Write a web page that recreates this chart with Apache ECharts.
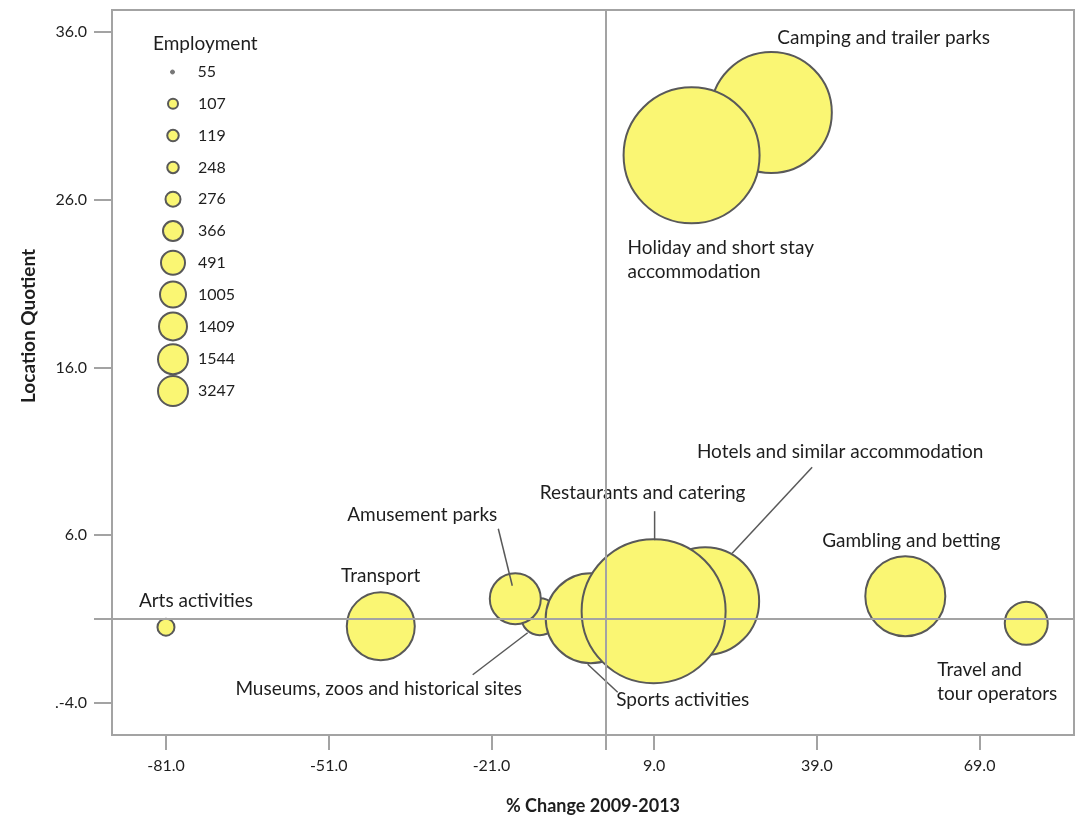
<!DOCTYPE html>
<html>
<head>
<meta charset="utf-8">
<script src="https://cdn.jsdelivr.net/npm/echarts@6/dist/echarts.min.js"></script>
<style>
html,body{margin:0;padding:0;background:#fff;}
#chart{width:1081px;height:819px;}
</style>
</head>
<body>
<div id="chart"></div>
<script>
// ---------- data (draw order: later entries are painted on top) ----------
const sectors = [
  'Arts activities',
  'Transport',
  'Museums, zoos and historical sites',
  'Amusement parks',
  'Sports activities',
  'Hotels and similar accommodation',
  'Restaurants and catering',
  'Gambling and betting',
  'Travel and\ntour operators',
  'Camping and trailer parks',
  'Holiday and short stay\naccommodation'
];
const pctChange        = [-81.0, -41.4, -12.1, -16.6, -2.7, 18.4, 8.9, 55.3, 77.6, 30.6, 15.9];
const locationQuotient = [0.52, 0.58, 1.14, 2.21, 1.05, 2.07, 1.47, 2.36, 0.75, 31.2, 28.65];
const employment       = [55, 276, 107, 248, 491, 1005, 3247, 366, 119, 1409, 1544];

const legendValues = [55, 107, 119, 248, 276, 366, 491, 1005, 1409, 1544, 3247];

const xTickValues = [-81, -51, -21, 9, 39, 69];
const xTickLabels = ['-81.0', '-51.0', '-21.0', '9.0', '39.0', '69.0'];
const yTickValues = [36, 26, 16, 6, -4];
const yTickLabels = ['36.0', '26.0', '16.0', '6.0', '.-4.0'];

const refX = 0;   // % change reference
const refY = 1;   // location quotient reference

// ---------- visual encodings ----------
const FILL = '#FAF673';
const EDGE = '#595959';
const AXIS = '#A3A3A3';
const TEXT = '#1e1e1e';
const FONT = 'Lato, "Open Sans", sans-serif';

// bubble diameter scale (piecewise over the employment legend breaks)
const sizeRange = [17, 37, 43, 51, 68, 80, 90, 108, 121, 136, 144];
function sizeScale(v) {
  const d = legendValues, r = sizeRange;
  if (v <= d[0]) return r[0];
  for (let i = 1; i < d.length; i++) {
    if (v <= d[i]) return r[i - 1] + (r[i] - r[i - 1]) * (v - d[i - 1]) / (d[i] - d[i - 1]);
  }
  return r[r.length - 1];
}
// legend icon diameters
const legendIconSize = [4, 10, 11.5, 11.5, 15, 20, 24, 26, 28, 30, 30];

// label placement (offset of label anchor from bubble centre, px)
const labelPlacement = {
  'Arts activities': {dx: 30, dy: -26, align: 'center'},
  'Transport': {dx: 0, dy: -50, align: 'center'},
  'Museums, zoos and historical sites': {dx: -161, dy: 72, align: 'center'},
  'Amusement parks': {dx: -93, dy: -84, align: 'center'},
  'Sports activities': {dx: 92, dy: 82, align: 'center'},
  'Hotels and similar accommodation': {dx: 135, dy: -149, align: 'center'},
  'Restaurants and catering': {dx: -11, dy: -118, align: 'center'},
  'Gambling and betting': {dx: 6, dy: -55, align: 'center'},
  'Travel and\ntour operators': {dx: -89, dy: 59, align: 'left'},
  'Camping and trailer parks': {dx: 6, dy: -75, align: 'left'},
  'Holiday and short stay\naccommodation': {dx: -64, dy: 105, align: 'left'}
};
// leader lines: [start offset, end offset] from bubble centre, px
const leaderPlacement = {
  'Amusement parks': [[-17, -70], [-3, -13]],
  'Restaurants and catering': [[1, -100], [1, -71]],
  'Hotels and similar accommodation': [[107, -134], [27, -48]],
  'Museums, zoos and historical sites': [[-67, 58], [-12, 16]],
  'Sports activities': [[-3, 46], [27, 74]]
};

const series = sectors.map((name, i) => {
  const lp = labelPlacement[name];
  return {
    type: 'scatter',
    name: String(employment[i]),
    data: [{name: name, value: [pctChange[i], locationQuotient[i], employment[i]]}],
    symbol: 'circle',
    symbolSize: v => sizeScale(v[2]),
    itemStyle: {color: FILL, borderColor: EDGE, borderWidth: 2, opacity: 1},
    label: {
      show: true, position: 'inside', formatter: '{b}',
      color: TEXT, fontSize: 19, fontFamily: FONT,
      align: lp.align, verticalAlign: 'middle', lineHeight: 24
    },
    labelLayout: {dx: lp.dx, dy: lp.dy},
    emphasis: {disabled: true},
    clip: false,
    z: 2
  };
});

// leader lines drawn from each bubble centre through the axis scales
const leaderIdx = sectors.map((n, i) => i).filter(i => leaderPlacement[sectors[i]]);
series.push({
  type: 'custom',
  name: 'leaders',
  silent: true,
  clip: false,
  z: 3,
  data: leaderIdx.map(i => ({name: sectors[i], value: [pctChange[i], locationQuotient[i]]})),
  renderItem: function (params, api) {
    const c = api.coord([api.value(0), api.value(1)]);
    const nm = sectors[leaderIdx[params.dataIndex]];
    const lp = leaderPlacement[nm];
    return {
      type: 'line',
      shape: {x1: c[0] + lp[0][0], y1: c[1] + lp[0][1], x2: c[0] + lp[1][0], y2: c[1] + lp[1][1]},
      style: {stroke: EDGE, lineWidth: 1.5}
    };
  }
});

// reference lines
series.push({
  type: 'scatter',
  name: 'ref',
  data: [],
  silent: true,
  markLine: {
    silent: true, symbol: 'none', z: 10,
    label: {show: false},
    emphasis: {disabled: true},
    lineStyle: {color: AXIS, width: 2, type: 'solid'},
    data: [{xAxis: refX}, {yAxis: refY}]
  }
});

const legends = legendValues.map((v, i) => {
  const d = legendIconSize[i];
  const yc = 72 + i * 31.8;
  return {
    data: [String(v)],
    left: 172 - d / 2,
    top: yc - 15,
    padding: 0,
    itemWidth: d,
    itemHeight: d,
    icon: 'circle',
    selectedMode: false,
    itemStyle: d < 6
      ? {color: '#777', borderColor: '#777', borderWidth: 1}
      : {borderColor: EDGE, borderWidth: 2},
    textStyle: {fontSize: 16, fontFamily: FONT, color: TEXT, lineHeight: 30, padding: [0, 0, 0, 20 - d / 2]}
  };
});

const option = {
  animation: false,
  backgroundColor: '#fff',
  textStyle: {fontFamily: FONT},
  title: {
    text: 'Employment', left: 153, top: 34, padding: 0,
    textStyle: {fontSize: 19, fontWeight: 'normal', color: TEXT, fontFamily: FONT}
  },
  legend: legends,
  grid: {
    left: 112, top: 10, width: 962, height: 725,
    outerBoundsMode: 'none', containLabel: false,
    show: true, borderColor: AXIS, borderWidth: 2, backgroundColor: 'transparent'
  },
  xAxis: {
    type: 'value', min: -90.95, max: 86.4,
    splitLine: {show: false},
    axisLine: {show: true, onZero: false, lineStyle: {color: AXIS, width: 2}},
    axisTick: {show: true, customValues: xTickValues.concat([refX]), length: 15, lineStyle: {color: AXIS, width: 2}},
    axisLabel: {
      customValues: xTickValues,
      formatter: v => xTickLabels[xTickValues.indexOf(v)],
      margin: 23, fontSize: 16, color: TEXT, fontFamily: FONT
    },
    name: '% Change 2009-2013', nameLocation: 'middle', nameGap: 62,
    nameTextStyle: {fontWeight: 'bold', fontSize: 18, color: TEXT, fontFamily: FONT}
  },
  yAxis: {
    type: 'value', min: -5.91, max: 37.31,
    splitLine: {show: false},
    axisLine: {show: true, onZero: false, lineStyle: {color: AXIS, width: 2}},
    axisTick: {show: true, customValues: yTickValues.concat([refY]), length: 18, lineStyle: {color: AXIS, width: 2}},
    axisLabel: {
      customValues: yTickValues,
      formatter: v => yTickLabels[yTickValues.indexOf(v)],
      margin: 25, fontSize: 16, color: TEXT, fontFamily: FONT
    }
  },
  graphic: [{
    type: 'text', x: 29, y: 326, rotation: Math.PI / 2,
    style: {text: 'Location Quotient', font: 'bold 19px Lato, sans-serif', fill: TEXT, align: 'center', verticalAlign: 'middle'}
  }],
  series: series
};

const chart = echarts.init(document.getElementById('chart'), null, {renderer: 'canvas'});
chart.setOption(option);
</script>
</body>
</html>
